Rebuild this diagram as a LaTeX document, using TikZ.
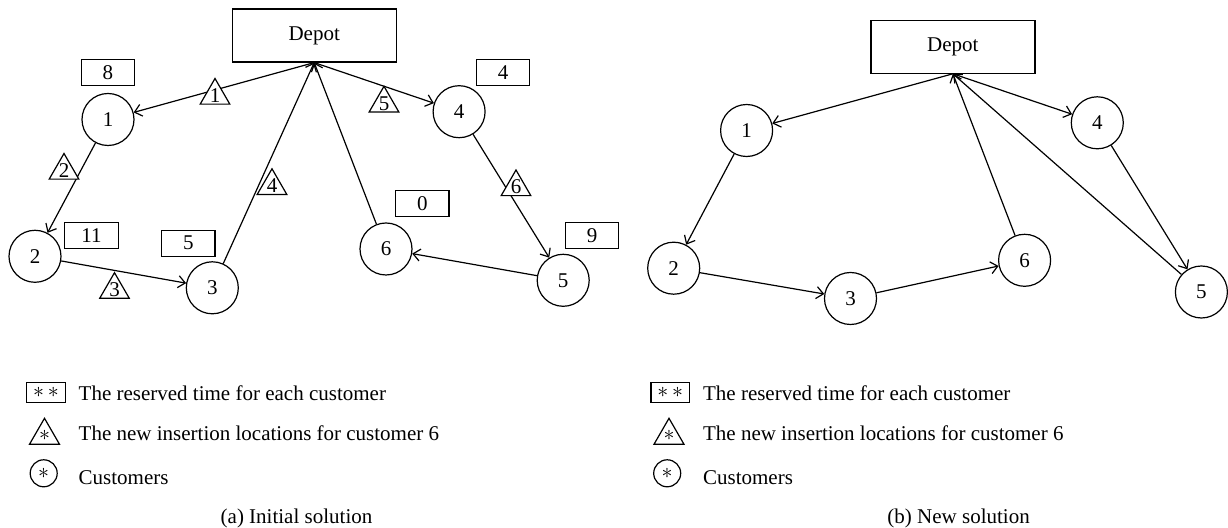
\documentclass[tikz,border=0pt]{standalone}
\usepackage{fontspec}
\setmainfont{Liberation Serif}
\usetikzlibrary{arrows.meta,shapes.geometric}
\begin{document}
\begin{tikzpicture}[x=0.5pt,y=-0.5pt,
  font=\fontsize{10.5}{12}\selectfont,
  cust/.style={circle,draw,line width=0.6pt,minimum size=26pt,inner sep=0pt},
  tbox/.style={rectangle,draw,line width=0.6pt,minimum width=26.7pt,minimum height=13pt,inner sep=0pt},
  depotbox/.style={rectangle,draw,line width=0.6pt,minimum width=82pt,minimum height=26.5pt,inner sep=0pt},
  ins/.style={regular polygon,regular polygon sides=3,draw,fill=white,line width=0.6pt,minimum size=17.1pt,inner sep=0pt},
  arr/.style={line width=0.6pt,-{Straight Barb[length=3.5pt,width=6pt]}},
  legtext/.style={anchor=base west,inner sep=0pt},
  lbox/.style={rectangle,draw,line width=0.6pt,minimum width=19.3pt,minimum height=9.8pt,inner sep=0pt},
  lcirc/.style={circle,draw,line width=0.6pt,minimum size=13.5pt,inner sep=0pt},
  ltri/.style={regular polygon,regular polygon sides=3,draw,line width=0.6pt,minimum size=17.3pt,inner sep=0pt},
]
\useasboundingbox (0,0) rectangle (1228,528);

% ---------- Panel (a) ----------
\node[depotbox] (Da) at (314.2,35.5) {Depot};
\node[cust] (a1) at (108,119.5) {1};
\node[cust] (a2) at (35,256.3) {2};
\node[cust] (a3) at (212.3,287.8) {3};
\node[cust] (a4) at (459.1,111.7) {4};
\node[cust] (a5) at (563.2,280.3) {5};
\node[cust] (a6) at (386,249) {6};

\node[tbox] (r8) at (107.9,72.3) {8};
\node[tbox] (r4) at (503,72.3) {4};
\node[tbox] (r11) at (91.5,235.5) {11};
\node[tbox] (r5) at (188.3,243.2) {5};
\node[tbox] (r0) at (422.3,203.7) {0};
\node[tbox] (r9) at (592,235.3) {9};

\draw[arr] (Da.south) -- (a1);
\draw[arr] (a1) -- (a2);
\draw[arr] (a2) -- (a3);
\draw[arr] (a3) -- (Da.south);
\draw[arr] (Da.south) -- (a4);
\draw[arr] (a4) -- (a5);
\draw[arr] (a5) -- (a6);
\draw[arr] (a6) -- (Da.south);

\node[ins,label=center:1] (t1) at (215,95.6) {};
\node[ins,label=center:2] (t2) at (64,170.6) {};
\node[ins,label=center:3] (t3) at (114.5,289.8) {};
\node[ins,label=center:4] (t4) at (272,185.9) {};
\node[ins,label=center:5] (t5) at (384,103.4) {};
\node[ins,label=center:6] (t6) at (516,187.1) {};

% legend (a)
\node[lbox] (la1) at (46,392.5) {$\ast\,\ast$};
\node[legtext] (la1t) at (78.3,400.5) {The reserved time for each customer};
\node[ltri,label=center:$\ast$] (la2) at (44.5,435.6) {};
\node[legtext] (la2t) at (78.3,440.7) {The new insertion locations for customer 6};
\node[lcirc] (la3) at (43.7,473.3) {$\ast$};
\node[legtext] (la3t) at (78.3,484.3) {Customers};
\node[anchor=base,inner sep=0pt] (capa) at (296.5,524) {(a) Initial solution};

% ---------- Panel (b) ----------
\node[depotbox] (Db) at (952.9,46.7) {Depot};
\node[cust] (b1) at (746.6,130.5) {1};
\node[cust] (b2) at (673.7,268.2) {2};
\node[cust] (b3) at (850.5,298.5) {3};
\node[cust] (b4) at (1097.3,122.8) {4};
\node[cust] (b5) at (1201.4,292) {5};
\node[cust] (b6) at (1024.6,260.3) {6};

\draw[arr] (Db.south) -- (b1);
\draw[arr] (b1) -- (b2);
\draw[arr] (b2) -- (b3);
\draw[arr] (b3) -- (b6);
\draw[arr] (b6) -- (Db.south);
\draw[arr] (Db.south) -- (b4);
\draw[arr] (b4) -- (b5);
\draw[arr] (b5) -- (Db.south);

% legend (b)
\node[lbox] (lb1) at (670.2,392.5) {$\ast\,\ast$};
\node[legtext] (lb1t) at (702.7,400.5) {The reserved time for each customer};
\node[ltri,label=center:$\ast$] (lb2) at (669,435.6) {};
\node[legtext] (lb2t) at (702.7,440.7) {The new insertion locations for customer 6};
\node[lcirc] (lb3) at (667.2,473.3) {$\ast$};
\node[legtext] (lb3t) at (702.7,484.3) {Customers};
\node[anchor=base,inner sep=0pt] (capb) at (958.6,524) {(b) New solution};
\end{tikzpicture}
\end{document}
